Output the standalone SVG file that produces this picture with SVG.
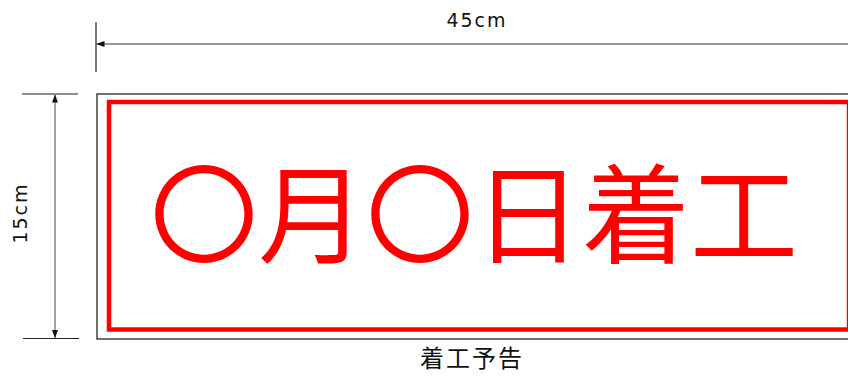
<svg xmlns="http://www.w3.org/2000/svg" width="848" height="376" viewBox="0 0 848 376">
<style>
.dim{stroke:#333;stroke-width:1.2;fill:none}
.dimv{stroke:#666;stroke-width:1.2;fill:none}
.ext{stroke:#222;stroke-width:1.2;fill:none}
.lbl{font-family:"DejaVu Sans","Liberation Sans",sans-serif;font-size:19px;letter-spacing:2px;fill:#111}
.cap{font-family:"Noto Sans CJK JP",sans-serif;font-size:24px;letter-spacing:2px;fill:#111}
.big{font-family:"Noto Sans CJK JP",sans-serif;font-size:108px;fill:#ff0000}
</style>
<defs>
<marker id="arr" viewBox="0 0 8 6" refX="8" refY="3" markerWidth="8" markerHeight="6" markerUnits="userSpaceOnUse" orient="auto-start-reverse">
<path d="M0,0 L8,3 L0,6 z" fill="#111"/>
</marker>
</defs>
<g id="connectors">
<line class="ext" x1="96" y1="22" x2="96" y2="72"/>
<line class="dim" x1="96.5" y1="44" x2="870" y2="44" marker-start="url(#arr)" marker-end="url(#arr)"/>
<line class="ext" x1="22" y1="94" x2="78" y2="94"/>
<line class="ext" x1="23" y1="338.5" x2="79" y2="338.5"/>
<line class="dimv" x1="55" y1="94.5" x2="55" y2="338" marker-start="url(#arr)" marker-end="url(#arr)"/>
</g>
<g id="label-width">
<text class="lbl" x="477" y="27" text-anchor="middle">45cm</text>
</g>
<g id="label-height">
<text class="lbl" transform="translate(27,213) rotate(-90)" text-anchor="middle">15cm</text>
</g>
<g id="sign">
<rect x="97" y="94" width="780" height="245" fill="#fff" stroke="#111" stroke-width="1.2"/>
<rect x="109" y="102" width="740" height="227.5" fill="none" stroke="#ff0000" stroke-width="4.5"/>
<text class="big" x="150" y="255">〇月〇日着工</text>
</g>
<g id="caption">
<text class="cap" x="472" y="367" text-anchor="middle">着工予告</text>
</g>
</svg>
